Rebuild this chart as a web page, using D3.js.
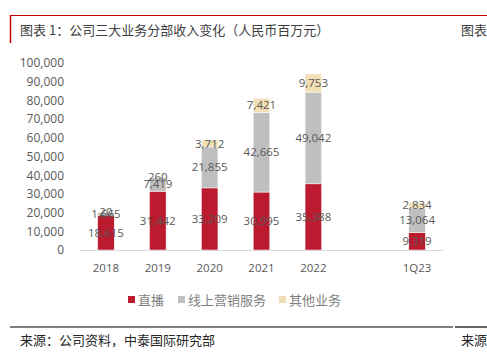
<!DOCTYPE html>
<html><head><meta charset="utf-8">
<script src="https://cdn.jsdelivr.net/npm/d3@7"></script>
<style>
body{margin:0;background:#fff;}
svg{display:block;font-family:"Noto Sans CJK SC","Noto Sans",sans-serif;}
</style></head>
<body>
<script>
const categories = ["2018","2019","2020","2021","2022","","1Q23"];
const seriesNames = ["直播","线上营销服务","其他业务"];
const live = [18615, 31442, 33209, 30995, 35388, null, 9319];
const online = [1665, 7419, 21855, 42665, 49042, null, 13064];
const other = [20, 260, 3712, 7421, 9753, null, 2834];
const yTicks = [0,10000,20000,30000,40000,50000,60000,70000,80000,90000,100000];
const colors = ["#BC1A2E","#BFBFBF","#F2DEB4"];
const numFont = "'Open Sans','Liberation Sans',sans-serif";

const W=487,H=357;
const svg=d3.select("body").append("svg").attr("width",W).attr("height",H);

// title frame
svg.append("line").attr("x1",10).attr("x2",W).attr("y1",15.5).attr("y2",15.5).attr("stroke","#C00000").attr("stroke-width",1);
svg.append("line").attr("x1",10.5).attr("x2",10.5).attr("y1",15).attr("y2",43).attr("stroke","#C00000").attr("stroke-width",1.5);
svg.append("text").attr("x",20).attr("y",35).attr("font-size",13).attr("fill","#404040").text("图表 1：公司三大业务分部收入变化（人民币百万元）");
svg.append("text").attr("x",461).attr("y",35).attr("font-size",13).attr("fill","#404040").text("图表");

const x=d3.scaleBand().domain(categories.map((c,i)=>i)).range([80,443]).paddingInner(0.68).paddingOuter(0.34);
const y=d3.scaleLinear().domain([0,100000]).range([250,63]);

// y axis labels
const ya=svg.append("g").attr("transform","translate(64,0)").call(d3.axisLeft(y).tickValues(yTicks).tickSize(0).tickPadding(0).tickFormat(d3.format(",")));
ya.select(".domain").remove();
ya.selectAll("text").attr("font-size",12).attr("fill","#595959").attr("font-family",numFont);

const stackData=categories.map((c,i)=>({i, a:live[i]||0, b:online[i]||0, c:other[i]||0}));
const stack=d3.stack().keys(["a","b","c"])(stackData);

stack.forEach((layer,k)=>{
  svg.append("g").selectAll("rect").data(layer.filter(d=>categories[d.data.i]!=="")).join("rect")
    .attr("x",d=>x(d.data.i)).attr("width",x.bandwidth())
    .attr("y",d=>y(d[1])).attr("height",d=>y(d[0])-y(d[1]))
    .attr("fill",colors[k]).attr("stroke","#fff").attr("stroke-width",0.5);
});

// baseline
svg.append("line").attr("x1",80).attr("x2",443).attr("y1",250.5).attr("y2",250.5).attr("stroke","#D9D9D9").attr("stroke-width",1);

// labels
stack.forEach((layer,k)=>{
  svg.append("g").selectAll("text").data(layer.filter(d=>categories[d.data.i]!=="")).join("text")
    .attr("x",d=>x(d.data.i)+x.bandwidth()/2)
    .attr("y",d=>(y(d[0])+y(d[1]))/2+4)
    .attr("text-anchor","middle").attr("font-size",11.5).attr("fill","#595959")
    .attr("font-family",numFont)
    .text(d=>d3.format(",")(d[1]-d[0]));
});

// x axis labels
svg.append("g").selectAll("text").data(categories.map((c,i)=>({c,i})).filter(d=>d.c!=="")).join("text")
  .attr("x",d=>x(d.i)+x.bandwidth()/2).attr("y",271.5).attr("text-anchor","middle")
  .attr("font-size",11.5).attr("fill","#595959").attr("font-family",numFont)
  .text(d=>d.c);

// legend
const lx=[128,178,279];
seriesNames.forEach((n,k)=>{
  svg.append("rect").attr("x",lx[k]).attr("y",296).attr("width",7).attr("height",7).attr("fill",colors[k]);
  svg.append("text").attr("x",lx[k]+10).attr("y",304.5).attr("font-size",13).attr("fill","#7F7F7F").text(n);
});

// bottom rule and source
svg.append("line").attr("x1",10).attr("x2",453).attr("y1",327).attr("y2",327).attr("stroke","#000").attr("stroke-width",1.2);
svg.append("line").attr("x1",455).attr("x2",W).attr("y1",327).attr("y2",327).attr("stroke","#000").attr("stroke-width",1.2);
svg.append("text").attr("x",20).attr("y",345).attr("font-size",13).attr("fill","#262626").text("来源：公司资料，中泰国际研究部");
svg.append("text").attr("x",461).attr("y",345).attr("font-size",13).attr("fill","#262626").text("来源");
</script>
</body></html>
